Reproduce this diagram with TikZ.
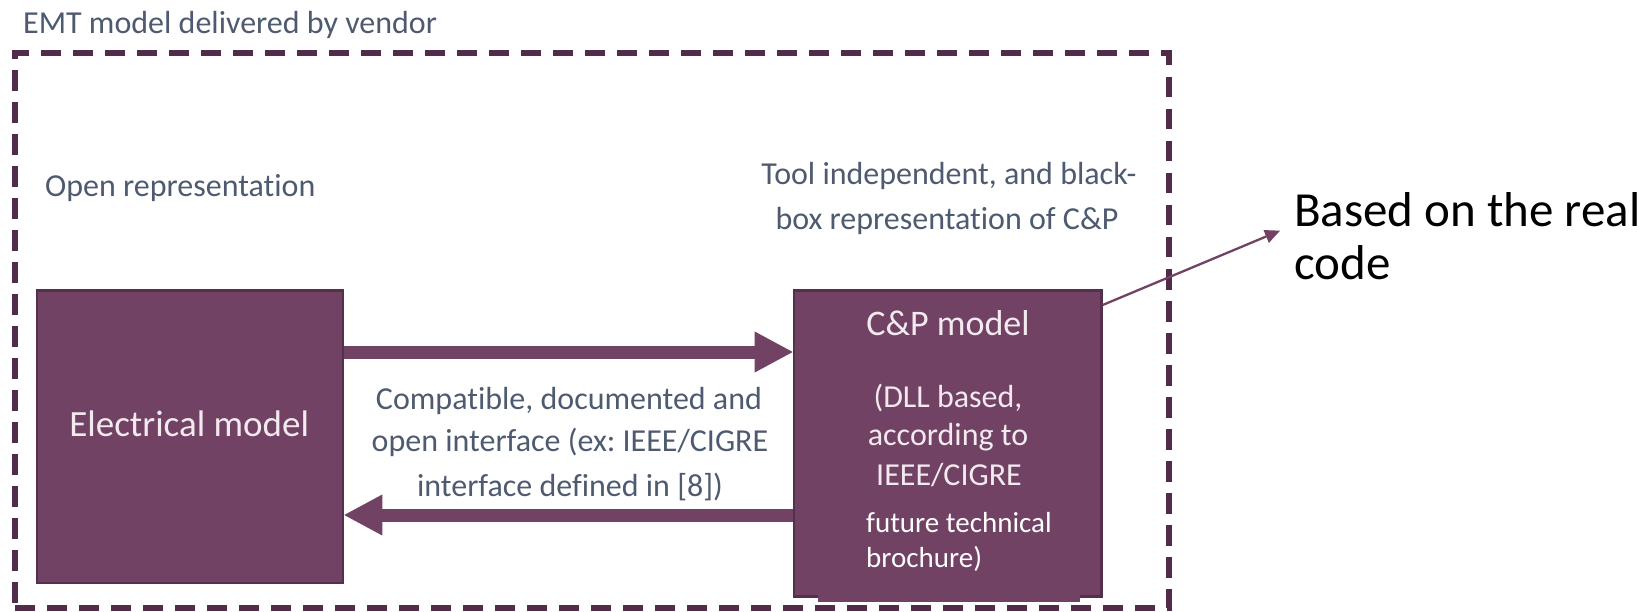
\documentclass[tikz,border=0pt]{standalone}
\usepackage{fontspec}
\setmainfont{Carlito}[Ligatures={NoCommon}]
\usetikzlibrary{arrows.meta}
\frenchspacing

\definecolor{boxfill}{RGB}{113,66,99}
\definecolor{boxedge}{RGB}{85,48,76}
\definecolor{framecol}{RGB}{81,44,74}
\definecolor{labelcol}{RGB}{78,90,112}
\definecolor{boxtext}{RGB}{243,234,240}

\tikzset{
  modelbox/.style={rectangle, fill=boxfill, draw=boxedge, line width=2.5pt, inner sep=0pt},
  vendorframe/.style={rectangle, draw=framecol, line width=6pt, dash pattern=on 20.3pt off 11.7pt, inner sep=0pt},
  graylabel/.style={text=labelcol, inner sep=0pt, font=\fontsize{32}{38}\selectfont},
  boxlabel/.style={text=boxtext, inner sep=0pt},
  whitelabel/.style={text=white, inner sep=0pt, font=\fontsize{29}{35}\selectfont},
  notelabel/.style={text=black, inner sep=0pt, font=\fontsize{49}{59}\selectfont},
  flow/.style={draw=boxfill, line width=13pt, -{Triangle[length=38pt, width=41pt, line width=0pt]}},
  pointer/.style={draw=boxfill, line width=2.3pt, -{Triangle[length=15pt, width=14pt, line width=0pt]}},
}

\begin{document}
\begin{tikzpicture}[x=1pt, y=-1pt]
\useasboundingbox (0,0) rectangle (1644,612);

% vendor delivery frame
\node[vendorframe, minimum width=1153.5pt, minimum height=555.3pt] (vendor) at (591.75,330.35) {};
\node[graylabel, anchor=base west] (title) at (23,33.3) {EMT model delivered by vendor};

% model blocks
\node[modelbox, minimum width=306pt, minimum height=292.2pt] (elec) at (190,436.65) {};
\node[modelbox, minimum width=307.5pt, minimum height=305.5pt] (cp) at (947.7,443.5) {};
\fill[boxfill] (818,590) rectangle (1080,601.5);

% captions above the blocks
\node[graylabel, anchor=base west] (openrep) at (45,196.7) {Open representation};
\node[graylabel, anchor=base] (tool1) at (949,185) {Tool independent, and black-};
\node[graylabel, anchor=base] (tool2) at (947,230) {box representation of C\&P};

% block texts
\node[boxlabel, anchor=base, font=\fontsize{37}{44}\selectfont] (elabel) at (189.2,436.7) {Electrical model};
\node[boxlabel, anchor=base, font=\fontsize{36}{43}\selectfont] (cp1) at (948,335) {C\&P model};
\node[boxlabel, anchor=base, font=\fontsize{32}{38}\selectfont] (cp2) at (948,407) {(DLL based,};
\node[boxlabel, anchor=base, font=\fontsize{32}{38}\selectfont] (cp3) at (948,445) {according to};
\node[boxlabel, anchor=base, font=\fontsize{32}{38}\selectfont] (cp4) at (949,485) {IEEE/CIGRE};
\node[whitelabel, anchor=base west] (cp5) at (866,532) {future technical};
\node[whitelabel, anchor=base west] (cp6) at (866,567) {brochure)};

% interface description
\node[graylabel, anchor=base] (iface1) at (569,409) {Compatible, documented and};
\node[graylabel, anchor=base] (iface2) at (570,451.7) {open interface (ex: IEEE/CIGRE};
\node[graylabel, anchor=base] (iface3) at (570,496.7) {interface defined in [8])};

% data flow between the blocks
\coordinate (fwdY) at (0,352);
\coordinate (backY) at (0,515);
\draw[flow] (elec.east |- fwdY) -- (cp.west |- fwdY);
\draw[flow] (cp.west |- backY) -- (elec.east |- backY);

% side note
\coordinate (tipY) at (0,305);
\coordinate (codeTip) at (1280,230.7);
\draw[pointer] (cp.east |- tipY) -- (codeTip);
\node[notelabel, anchor=base west] (real1) at (1294,226.7) {Based on the real};
\node[notelabel, anchor=base west] (real2) at (1294,280) {code};
\end{tikzpicture}
\end{document}
